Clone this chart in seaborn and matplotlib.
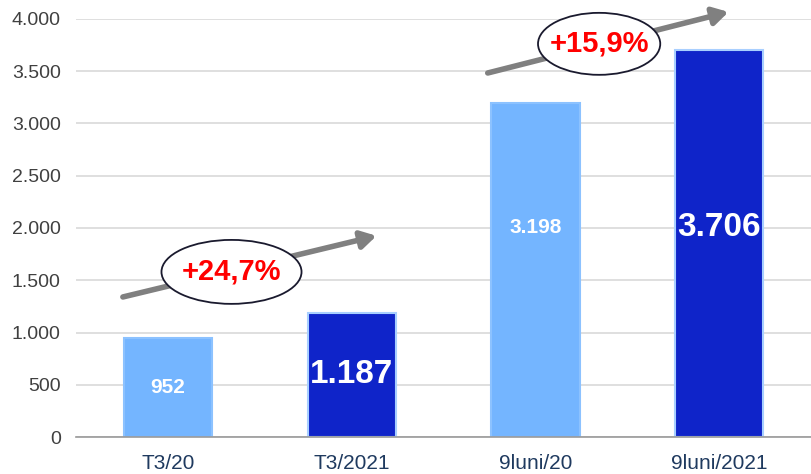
import matplotlib
matplotlib.use("Agg")
import matplotlib.pyplot as plt
import seaborn as sns
import pandas as pd
from matplotlib.patches import Ellipse, FancyArrowPatch

categories = ["T3/20", "T3/2021", "9luni/20", "9luni/2021"]
values = [952, 1187, 3198, 3706]
value_labels = ["952", "1.187", "3.198", "3.706"]
growth_labels = ["+24,7%", "+15,9%"]
yticks = [0, 500, 1000, 1500, 2000, 2500, 3000, 3500, 4000]
ytick_labels = ["0", "500", "1.000", "1.500", "2.000", "2.500", "3.000", "3.500", "4.000"]

LIGHT = "#74B5FF"
DARK = "#0F24C9"

sns.set_theme(style="white")
plt.rcParams["font.family"] = ["Liberation Sans", "DejaVu Sans"]

df = pd.DataFrame({"cat": categories, "val": values})

fig = plt.figure(figsize=(8.12, 4.74), dpi=100)
ax = fig.add_axes([0.0936, 0.078, 0.91, 0.882])

colors = [LIGHT, DARK, LIGHT, DARK]
sns.barplot(data=df, x="cat", y="val", hue="cat", palette=colors,
            saturation=1, width=0.48, legend=False, ax=ax, linewidth=1.5)
for patch, c in zip(ax.patches, colors):
    patch.set_edgecolor("#A8CFFF" if c == DARK else "#8CC2FF")

ax.set_xlim(-0.5, 3.52)
ax.set_ylim(0, 4000)
ax.set_yticks(yticks)
ax.set_yticklabels(ytick_labels, fontsize=14, color="#404040")
ax.tick_params(axis="y", length=0, pad=11)
ax.tick_params(axis="x", length=0, labelsize=15, labelcolor="#1F3A5F", pad=12)
ax.set_xticks([0.5, 1.5, 2.5], minor=True)
ax.tick_params(axis="x", which="minor", length=5, color="#999999", width=1, direction="out")
ax.grid(axis="y", color="#D9D9D9", linewidth=1.2)
ax.set_axisbelow(True)
ax.set_xlabel("")
ax.set_ylabel("")
for s in ["left", "right", "top"]:
    ax.spines[s].set_visible(False)
ax.spines["bottom"].set_color("#999999")
ax.spines["bottom"].set_linewidth(1.2)

# value labels inside bars
for i, (v, lab) in enumerate(zip(values, value_labels)):
    big = i % 2 == 1
    ypos = v / 2 if v < 2000 else 2000
    ax.text(i, ypos, lab, ha="center", va="center",
            color="white", fontweight="bold", fontsize=24 if big else 15)

# growth arrows with ellipses
arrows = [((-0.245, 1340), (1.135, 1925)), ((1.74, 3483), (3.05, 4067))]
ellipses = [((0.346, 1580), 0.762, 612), ((2.346, 3762), 0.665, 593)]
for (start, end), (center, w, h), lab in zip(arrows, ellipses, growth_labels):
    arr = FancyArrowPatch(start, end, arrowstyle="-|>,head_length=6,head_width=3.5",
                          color="#808080", linewidth=4, mutation_scale=1.5,
                          shrinkA=0, shrinkB=0, clip_on=False, zorder=4)
    ax.add_patch(arr)
    ell = Ellipse(center, w, h, facecolor="white", edgecolor="#1a1a2e",
                  linewidth=1.3, clip_on=False, zorder=5)
    ax.add_patch(ell)
    ax.text(center[0], center[1], lab, ha="center", va="center", color="#FF0000",
            fontweight="bold", fontsize=21, zorder=6)

fig.savefig("out.png", dpi=100)
